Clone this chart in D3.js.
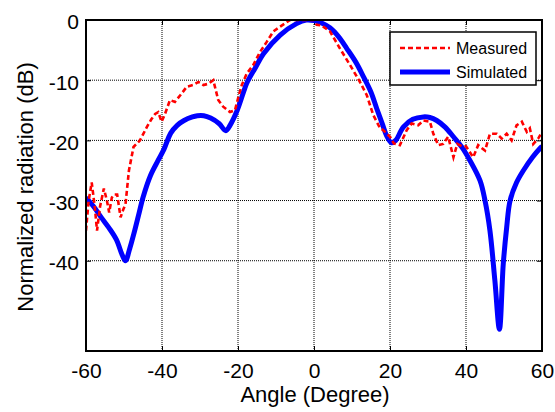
<!DOCTYPE html>
<html>
<head>
<meta charset="utf-8">
<script src="https://cdn.jsdelivr.net/npm/d3@7"></script>
<style>
  body { margin: 0; background: #fff; }
  text { font-family: "Liberation Sans", Arial, sans-serif; fill: #000; }
</style>
</head>
<body>
<script>
var width = 555,
  height = 412,
  margin = {top: 20, right: 13, bottom: 61, left: 86}

// Measured pattern (angle in degrees, level in dB)
var measAngle = [-60, -59.3, -58.5, -57.7, -57.1, -56.3, -55.3, -54.5, -53.9, -53.2, -52.6, -51.8,
  -50.9, -50.2, -49.6, -48.7, -47.5, -45.8, -44, -42.8, -41.8, -41, -40.1, -39.2, -37.9, -36.6,
  -34.8, -33.5, -31.8, -30.4, -29.1, -27.8, -26.5, -25.2, -23.9, -22.1, -20.8, -19.9, -19, -17.7,
  -16, -14.2, -12.4, -10.7, -8.9, -6.3, -3, 0, 0.7, 2, 4.2, 6.8, 9.5, 12.1, 13.9, 15.6, 17.4,
  18.2, 20, 21, 22.6, 24.4, 25.7, 27.4, 28.8, 30.5, 31.4, 32.7, 34, 35.3, 36.7, 37.7, 38.9, 40,
  41.9, 43.2, 45, 46.3, 48.1, 49.4, 50.7, 52, 53.3, 54.7, 56, 56.8, 57.7, 59, 60]
var measDb = [-35, -30, -27, -31, -35, -31, -28, -30, -32, -29.5, -29, -29,
  -32.8, -31.5, -30.6, -25, -21.1, -20, -17.8, -16.5, -15.6, -15.3, -16.9, -15.6, -13.3, -13.6,
  -12.2, -11.1, -10.8, -10.3, -10.8, -10.6, -10, -13.3, -14.4, -15.3, -15, -12.8, -10.8, -8.9,
  -7.5, -5.3, -3.6, -1.9, -1.1, 0, 0, 0, -0.8, -0.9, -1.9, -4.7, -7.5, -10.3, -12.5, -15.8, -18,
  -18.3, -19.4, -20.5, -20.8, -18.3, -17.2, -17.5, -16.7, -16.9, -18.9, -20.8, -20.6, -19.4, -22.8, -20.6, -21, -21,
  -22.8, -20.8, -21.7, -18.9, -18.9, -19.7, -18.9, -20, -17.5, -16.9, -18.6, -18, -20.6, -19.7, -18.6]

// Simulated pattern
var simAngle = [-60, -58, -56, -54, -52, -50.5, -49.6, -48.5, -47.4, -46, -45, -43, -41, -39.5,
  -37.7, -36, -34.2, -32, -30.7, -29, -27.2, -25, -23.2, -22.1, -20.2, -18.4, -17.7, -15.5, -13.3,
  -8.9, -4.6, -2, 0, 2, 4.2, 6.5, 8.6, 11, 13, 15, 16.5, 18, 19.1, 20.4, 21.5, 23.5, 26, 28.8,
  30.5, 32.3, 34.5, 36.7, 39, 41, 43.7, 45, 46.3, 47.6, 48.8, 49.8, 50.7, 51.6, 53.3, 55.1, 57.5, 59.5, 60]
var simDb = [-29.5, -31, -32.8, -34.5, -36.5, -39, -40, -38, -35.5, -32, -29.5, -25.8, -23.3, -21.5,
  -18.8, -17.5, -16.7, -16.1, -15.9, -15.9, -16.3, -17.2, -18.4, -17.5, -15, -11.7, -10.5, -8, -5.6,
  -2.5, -0.6, 0, -0.1, -0.5, -1.3, -2.8, -4.7, -7, -9.4, -12, -14.7, -17.3, -19.2, -20.4, -20, -17.8, -16.5, -16.1,
  -16.2, -16.7, -17.8, -19.4, -21.2, -23.3, -26.7, -30, -35, -43.3, -51.4, -40.6, -34.5, -30, -27, -25, -22.8, -21.3, -21]

var xTicks = [-60, -40, -20, 0, 20, 40, 60]
var yTicks = [0, -10, -20, -30, -40]
var seriesNames = ['Measured', 'Simulated']

var measured = measAngle.map(function (a, i) { return {x: a, y: measDb[i]} })
var simulated = simAngle.map(function (a, i) { return {x: a, y: simDb[i]} })

var w = width - margin.left - margin.right,
  h = height - margin.top - margin.bottom

var x = d3.scaleLinear().domain([-60, 60]).range([0, w])
var y = d3.scaleLinear().domain([-55, 0]).range([h, 0])

var plain = function (d) { return String(d) }  // hyphen minus, like the original

var svg = d3.select('body').append('svg')
  .attr('width', width)
  .attr('height', height)

var g = svg.append('g')
  .attr('transform', 'translate(' + margin.left + ',' + margin.top + ')')

g.append('clipPath').attr('id', 'clip')
  .append('rect').attr('width', w).attr('height', h)

// grid
g.selectAll('.vgrid').data(xTicks).enter().append('line')
  .attr('x1', function (d) { return x(d) }).attr('x2', function (d) { return x(d) })
  .attr('y1', 0).attr('y2', h)
  .attr('stroke', '#000').attr('stroke-width', 1).attr('stroke-dasharray', '1,1')
g.selectAll('.hgrid').data(yTicks).enter().append('line')
  .attr('x1', 0).attr('x2', w)
  .attr('y1', function (d) { return y(d) }).attr('y2', function (d) { return y(d) })
  .attr('stroke', '#000').attr('stroke-width', 1).attr('stroke-dasharray', '1,1')

// axes with inward ticks
var xAxis = g.append('g').attr('transform', 'translate(0,' + h + ')')
  .call(d3.axisBottom(x).tickValues(xTicks).tickFormat(plain).tickSizeInner(-5).tickSizeOuter(0).tickPadding(12))
var yAxis = g.append('g')
  .call(d3.axisLeft(y).tickValues(yTicks).tickFormat(plain).tickSizeInner(-5).tickSizeOuter(0).tickPadding(7))
g.append('g').call(d3.axisTop(x).tickValues(xTicks).tickSizeInner(-5).tickSizeOuter(0).tickFormat(''))
g.append('g').attr('transform', 'translate(' + w + ',0)')
  .call(d3.axisRight(y).tickValues(yTicks).tickSizeInner(-5).tickSizeOuter(0).tickFormat(''))

svg.selectAll('.domain').remove()
svg.selectAll('.tick line').attr('stroke', '#000')
xAxis.selectAll('text').style('font-size', '21px').attr('dy', '0.71em')
yAxis.selectAll('text').style('font-size', '21px').attr('dy', '0.42em')

var line = d3.line()
  .x(function (d) { return x(d.x) })
  .y(function (d) { return y(d.y) })

var plot = g.append('g').attr('clip-path', 'url(#clip)')

plot.append('path')
  .datum(simulated)
  .attr('fill', 'none')
  .attr('stroke', '#0000ff')
  .attr('stroke-width', 5)
  .attr('stroke-linejoin', 'round')
  .attr('d', line.curve(d3.curveCatmullRom))

plot.append('path')
  .datum(measured)
  .attr('fill', 'none')
  .attr('stroke', '#ff0000')
  .attr('stroke-width', 2.6)
  .attr('stroke-dasharray', '5,3')
  .attr('d', line.curve(d3.curveLinear))

// frame
g.append('rect')
  .attr('width', w).attr('height', h)
  .attr('fill', 'none').attr('stroke', '#000').attr('stroke-width', 2)

// axis titles
svg.append('text')
  .attr('x', margin.left + w / 2 + 1)
  .attr('y', 402)
  .attr('text-anchor', 'middle')
  .style('font-size', '22px')
  .text('Angle (Degree)')

svg.append('text')
  .attr('transform', 'translate(33,187) rotate(-90)')
  .attr('text-anchor', 'middle')
  .style('font-size', '22px')
  .text('Normalized radiation (dB)')

// legend
var legend = svg.append('g').attr('transform', 'translate(390,32)')
legend.append('rect')
  .attr('width', 146).attr('height', 53)
  .attr('fill', '#fff').attr('stroke', '#000').attr('stroke-width', 1.5)

var items = legend.selectAll('.item').data(seriesNames).enter().append('g')
  .attr('transform', function (d, i) { return 'translate(0,' + (16 + i * 24) + ')' })
items.append('line')
  .attr('x1', 10).attr('x2', 60)
  .attr('stroke', function (d, i) { return i === 0 ? '#ff0000' : '#0000ff' })
  .attr('stroke-width', function (d, i) { return i === 0 ? 2.6 : 5 })
  .attr('stroke-dasharray', function (d, i) { return i === 0 ? '5,3' : null })
items.append('text')
  .attr('x', 66).attr('dy', '0.36em')
  .style('font-size', '16px')
  .text(function (d) { return d })
</script>
</body>
</html>
